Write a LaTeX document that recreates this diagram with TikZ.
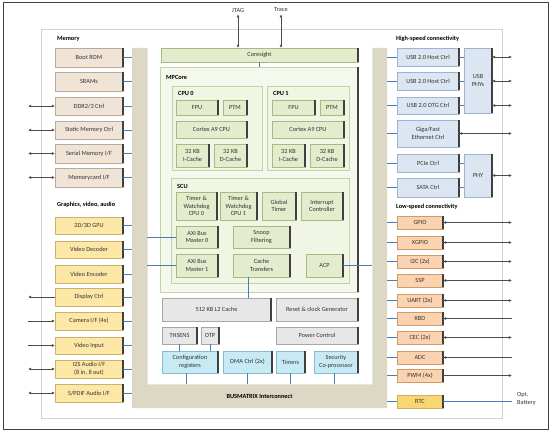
\documentclass[tikz,border=0pt]{standalone}
\usepackage{fontspec}
\setmainfont{Carlito}
\usetikzlibrary{arrows.meta,calc}
\definecolor{memfill}{HTML}{EFE4D6}
\definecolor{memdraw}{HTML}{B8AC9C}
\definecolor{gfxfill}{HTML}{FDE7A6}
\definecolor{gfxdraw}{HTML}{C9B26A}
\definecolor{hsfill}{HTML}{DCE6F2}
\definecolor{hsdraw}{HTML}{9DB3CF}
\definecolor{lsfill}{HTML}{FBD3B0}
\definecolor{lsdraw}{HTML}{D09A6A}
\definecolor{rtcfill}{HTML}{F9D672}
\definecolor{grnfill}{HTML}{E3ECCD}
\definecolor{grndraw}{HTML}{A7BA86}
\definecolor{mpfill}{HTML}{F5F8EC}
\definecolor{mpdraw}{HTML}{C5D3A4}
\definecolor{cpufill}{HTML}{F1F5E4}
\definecolor{gryfill}{HTML}{E7E7E7}
\definecolor{grydraw}{HTML}{A8A8A8}
\definecolor{cyfill}{HTML}{C8EAF5}
\definecolor{cydraw}{HTML}{7FBFD6}
\definecolor{tan}{HTML}{DDD8C3}
\definecolor{conn}{HTML}{4A7EBB}
\definecolor{txt}{HTML}{333333}
\newcommand{\bx}[7]{\node[#1, anchor=north west, minimum width={(#5-#3)*1pt}, minimum height={(#6-#4)*1pt}] (#2) at (#3,#4) {#7};}
\tikzset{
  base/.style={rectangle, draw, line width=0.5pt, inner sep=0.5pt, outer sep=0pt, align=center,
    text=txt, font=\fontsize{6.3}{7.6}\selectfont},
  redge/.style={append after command={(\tikzlastnode.north east) edge[draw=black!75, line width=1.3pt] (\tikzlastnode.south east)}},
  membox/.style={base, fill=memfill, draw=memdraw, redge},
  gfxbox/.style={base, fill=gfxfill, draw=gfxdraw, redge},
  hsbox/.style={base, fill=hsfill, draw=hsdraw, redge},
  lsbox/.style={base, fill=lsfill, draw=lsdraw, redge},
  rtcbox/.style={base, fill=rtcfill, draw=gfxdraw, redge},
  grnbox/.style={base, fill=grnfill, draw=grndraw, redge},
  grybox/.style={base, fill=gryfill, draw=grydraw, redge},
  cybox/.style={base, fill=cyfill, draw=cydraw, redge},
  region/.style={rectangle, draw=mpdraw, fill=cpufill, line width=0.6pt, outer sep=0pt},
  bus/.style={rectangle, fill=tan, draw=none, inner sep=0pt, outer sep=0pt},
  lbl/.style={anchor=west, inner sep=0pt, text=black, font=\fontsize{6.3}{7.6}\selectfont\bfseries},
  cn/.style={draw=conn, line width=0.8pt},
  io/.style={draw=black!70, line width=0.6pt},
  dbl/.style={io, {Latex[length=3.2pt,width=3pt]}-{Latex[length=3.2pt,width=3pt]}},
  toR/.style={io, -{Latex[length=3.2pt,width=3pt]}},
}
\begin{document}
\begin{tikzpicture}[x=1pt,y=-1pt]
\useasboundingbox (0,0) rectangle (553,433);
% frames
\draw[black!75, line width=0.9pt] (3,2) rectangle (548,429);
\draw[gray!35, line width=0.7pt] (41,29) rectangle (502,418);
% busmatrix
\fill[tan] (132,48) -- (147,48) -- (147,384) -- (372,384) -- (372,48) -- (387,48) -- (387,408) -- (132,408) -- cycle;
\node[bus, anchor=north west, minimum width=15pt, minimum height=360pt] (busL) at (132,48) {};
\node[bus, anchor=north west, minimum width=15pt, minimum height=360pt] (busR) at (372,48) {};
\node[bus, anchor=north west, minimum width=255pt, minimum height=24pt, font=\fontsize{6.3}{7.6}\selectfont\bfseries] (busB) at (132,384) {BUSMATRIX Interconnect};
\draw[gray!20, line width=0.5pt] (147,48) -- (147,384) -- (372,384) -- (372,48);

% section labels
\node[lbl] (tmem) at (57,39) {Memory};
\node[lbl] (tgfx) at (57,205) {Graphics, video, audio};
\node[lbl] (ths1) at (396,39) {High-speed connectivity};
\node[lbl] (tls1) at (396,207) {Low-speed connectivity};

% memory
\bx{membox}{mem1}{55}{48}{123}{67}{Boot ROM}
\bx{membox}{mem2}{55}{72}{123}{91}{SRAMs}
\bx{membox}{mem3}{55}{97}{123}{115}{DDR2/3 Ctrl}
\bx{membox}{mem4}{55}{121}{123}{139}{Static Memory Ctrl}
\bx{membox}{mem5}{55}{144}{123}{163}{Serial Memory I/F}
\bx{membox}{mem6}{55}{168}{123}{187}{Memorycard I/F}
% graphics
\bx{gfxbox}{g1}{55}{217}{123}{234}{2D/3D GPU}
\bx{gfxbox}{g2}{55}{241}{123}{258}{Video Decoder}
\bx{gfxbox}{g3}{55}{265}{123}{283}{Video Encoder}
\bx{gfxbox}{g4}{55}{288}{123}{306}{Display Ctrl}
\bx{gfxbox}{g5}{55}{312}{123}{330}{Camera I/F (4x)}
\bx{gfxbox}{g6}{55}{337}{123}{354}{Video Input}
\bx{gfxbox}{g7}{55}{360}{123}{378}{I2S Audio I/F\\(8 in, 8 out)}
\bx{gfxbox}{g8}{55}{384}{123}{402}{S/PDIF Audio I/F}
% high speed
\bx{hsbox}{h1}{397}{48}{459}{66}{USB 2.0 Host Ctrl}
\bx{hsbox}{h2}{397}{72}{459}{90}{USB 2.0 Host Ctrl}
\bx{hsbox}{h3}{397}{97}{459}{114}{USB 2.0 OTG Ctrl}
\bx{hsbox}{h4}{397}{120}{459}{147}{Giga/Fast\\Ethernet Ctrl}
\bx{hsbox}{h5}{397}{154}{459}{172}{PCIe Ctrl}
\bx{hsbox}{h6}{397}{178}{459}{197}{SATA Ctrl}
\bx{hsbox}{usbphy}{464}{48}{492}{113}{USB\\PHYs}
\bx{hsbox}{phy}{464}{154}{492}{197}{PHY}
% low speed
\bx{lsbox}{l1}{397}{216}{443}{229}{GPIO}
\bx{lsbox}{l2}{397}{236}{443}{249}{XGPIO}
\bx{lsbox}{l3}{397}{255}{443}{268}{I2C (2x)}
\bx{lsbox}{l4}{397}{274}{443}{287}{SSP}
\bx{lsbox}{l5}{397}{294}{443}{307}{UART (2x)}
\bx{lsbox}{l6}{397}{312}{443}{325}{KBD}
\bx{lsbox}{l7}{397}{331}{443}{344}{CEC (2x)}
\bx{lsbox}{l8}{397}{351}{443}{364}{ADC}
\bx{lsbox}{l9}{397}{369}{443}{382}{PWM (4x)}
\bx{rtcbox}{rtc}{397}{395}{443}{408}{RTC}

% core
\bx{grnbox}{cs}{161}{48}{358}{62}{Coresight}
\node[base, anchor=north west, minimum width=198pt, minimum height=225pt, fill=mpfill, draw=mpdraw, redge] (mp) at (160,67) {};
\node[lbl] (tmp) at (166,77) {MPCore};
\node[region, anchor=north west, minimum width=90pt, minimum height=84pt] (cpu0) at (172,86) {};
\node[region, anchor=north west, minimum width=82pt, minimum height=84pt] (cpu1) at (267,86) {};
\node[lbl] (tc0) at (178,93) {CPU 0};
\node[lbl] (tc1) at (273,93) {CPU 1};
\bx{grnbox}{fpu0}{176}{100}{218}{115}{FPU}
\bx{grnbox}{ptm0}{223}{100}{247}{115}{PTM}
\bx{grnbox}{a90}{176}{121}{247}{138}{Cortex A9 CPU}
\bx{grnbox}{ic0}{176}{144}{209}{167}{32 KB\\I-Cache}
\bx{grnbox}{dc0}{214}{144}{247}{167}{32 KB\\D-Cache}
\bx{grnbox}{fpu1}{272}{100}{315}{115}{FPU}
\bx{grnbox}{ptm1}{320}{100}{344}{115}{PTM}
\bx{grnbox}{a91}{272}{121}{344}{138}{Cortex A9 CPU}
\bx{grnbox}{ic1}{272}{144}{305}{167}{32 KB\\I-Cache}
\bx{grnbox}{dc1}{310}{144}{344}{167}{32 KB\\D-Cache}
\node[region, anchor=north west, minimum width=178pt, minimum height=105pt] (scu) at (171,178) {};
\node[lbl] (tscu) at (177,186) {SCU};
\bx{grnbox}{tw0}{176}{192}{217}{220}{Timer \&\\Watchdog\\CPU 0}
\bx{grnbox}{tw1}{220}{192}{257}{220}{Timer \&\\Watchdog\\CPU 1}
\bx{grnbox}{gt}{262}{192}{296}{220}{Global\\Timer}
\bx{grnbox}{intc}{301}{192}{343}{220}{Interrupt\\Controller}
\bx{grnbox}{axi0}{176}{226}{218}{248}{AXI Bus\\Master 0}
\bx{grnbox}{snoop}{233}{226}{290}{248}{Snoop\\Filtering}
\bx{grnbox}{axi1}{176}{254}{218}{277}{AXI Bus\\Master 1}
\bx{grnbox}{ct}{233}{254}{290}{277}{Cache\\Transfers}
\bx{grnbox}{acp}{306}{254}{343}{277}{ACP}
% lower
\bx{grybox}{l2c}{162}{298}{271}{321}{512 KB L2 Cache}
\bx{grybox}{rst}{276}{298}{358}{321}{Reset \& clock Generator}
\bx{grybox}{ths}{162}{327}{197}{344}{THSENS}
\bx{grybox}{otp}{201}{327}{219}{344}{OTP}
\bx{grybox}{pwr}{276}{327}{358}{344}{Power Control}
\bx{cybox}{cfg}{162}{351}{218}{373}{Configuration\\registers}
\bx{cybox}{dma}{223}{351}{272}{373}{DMA Ctrl (2x)}
\bx{cybox}{tmr}{276}{351}{305}{373}{Timers}
\bx{cybox}{sec}{314}{351}{358}{373}{Security\\Co-processor}

% blue connectors
\foreach \n in {mem1,mem2,mem3,mem4,mem5,mem6,g1,g2,g3,g4,g5,g6,g7,g8}
  \draw[cn] (\n.east) -- (\n.east -| busL.west);
\foreach \n in {h1,h2,h3,h4,h5,h6,l1,l2,l3,l4,l5,l6,l7,l8,l9,rtc}
  \draw[cn] (\n.west -| busR.east) -- (\n.west);
\foreach \n in {h1,h2,h3} \draw[cn] (\n.east) -- (\n.east -| usbphy.west);
\foreach \n in {h5,h6} \draw[cn] (\n.east) -- (\n.east -| phy.west);
\draw[cn] (busL.east |- axi0.west) -- (axi0.west);
\draw[cn] (busL.east |- axi1.west) -- (axi1.west);
\draw[cn] (acp.east) -- (acp.east -| busR.west);
\draw[cn] (cs.south) -- (cs.south |- mp.north);
\draw[cn] ([xshift=-13.5pt]ct.south) -- ([xshift=-13.5pt]ct.south |- l2c.north);
\draw[cn] (ths.south) -- (ths.south |- cfg.north);
\draw[cn] (otp.south) -- (otp.south |- cfg.north);
\draw[cn] ([xshift=-4pt]cfg.south) -- ([xshift=-4pt]cfg.south |- busB.north);
\draw[cn] (dma.south) -- (dma.south |- busB.north);
\draw[cn] (tmr.south) -- (tmr.south |- busB.north);
\draw[cn] ([xshift=-2pt]sec.south) -- ([xshift=-2pt]sec.south |- busB.north);

% RTC battery
\coordinate (bat) at (512,401.5);
\draw[cn] (rtc.east) -- (rtc.east -| bat);
\node[anchor=north west, inner sep=0pt, align=left, text=txt, font=\fontsize{6.3}{8.5}\selectfont] (battxt) at (517,392) {Opt.\\Battery};

% JTAG / Trace
\node[inner sep=0pt, text=txt, font=\fontsize{6.3}{7.6}\selectfont] (jtag) at (238,10) {JTAG};
\node[inner sep=0pt, text=txt, font=\fontsize{6.3}{7.6}\selectfont] (trace) at (281,10) {Trace};
\draw[dbl] ([yshift=-2pt]jtag.south) -- (jtag.south |- cs.north);
\draw[dbl] ([yshift=-2pt]trace.south) -- (trace.south |- cs.north);

% left IO arrows
\coordinate (lx) at (28,0);
\foreach \n in {mem3,mem4,mem5,mem6,g7,g8}
  \draw[dbl] (\n.west -| lx) -- (\n.west);
\draw[toR] (g4.west) -- (g4.west -| lx);
\foreach \n in {g5,g6} \draw[toR] (\n.west -| lx) -- (\n.west);

% right IO arrows
\coordinate (rx) at (512,0);
\foreach \n in {h1,h2,h3} \draw[dbl] (usbphy.east |- \n.east) -- (\n.east -| rx);
\draw[dbl] (h4.east) -- (h4.east -| rx);
\draw[dbl] (phy.east) -- (phy.east -| rx);
\foreach \n in {l1,l2,l3,l4,l5,l7} \draw[dbl] (\n.east) -- (\n.east -| rx);
\foreach \n in {l6,l8} \draw[toR] (\n.east -| rx) -- (\n.east);
\draw[toR] (l9.east) -- (l9.east -| rx);
\end{tikzpicture}
\end{document}
